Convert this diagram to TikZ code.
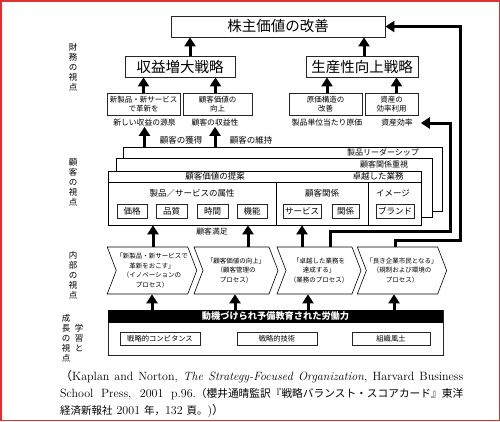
\documentclass[tikz,border=0pt]{standalone}
\usepackage{fontspec}
\newfontfamily\jp{Noto Sans CJK JP}
\usetikzlibrary{arrows.meta,positioning,shapes.symbols}
\definecolor{frame}{RGB}{220,50,50}
\newcommand\fsz[1]{\fontsize{#1}{#1}\selectfont}

\begin{document}
\begin{tikzpicture}[x=1pt,y=-1pt,
  font=\jp,
  box/.style={rectangle,draw=black!85,line width=.8pt,inner sep=0pt,align=center},
  goal/.style={box,font=\jp\fsz{14.5},minimum height=21pt},
  driver/.style={box,line width=.6pt,font=\jp\fontsize{7.5}{9.5}\selectfont,minimum height=22pt},
  tag/.style={inner sep=0pt,font=\jp\fsz{7.8}},
  ctag/.style={inner sep=0pt,font=\jp\fsz{8.5}},
  layer/.style={rectangle,draw,fill=white,line width=.6pt,inner sep=0pt},
  attr/.style={box,line width=.7pt,font=\jp\fsz{8.5},minimum height=14pt},
  chev/.style={shape=signal,signal from=west,signal to=east,signal pointer angle=138,draw,line width=.6pt,minimum width=84pt,minimum height=47pt,inner sep=0pt,align=center,font=\jp\fontsize{6.5}{9.5}\selectfont},
  skill/.style={box,line width=.7pt,font=\jp\fsz{7.3},minimum height=13pt},
  view/.style={inner sep=0pt,align=center,font=\jp\fontsize{8.5}{10}\selectfont},
  arrow/.style={-{Triangle[length=9pt,width=11pt]},line width=3pt},
]
\useasboundingbox (0,0) rectangle (500,421);
\draw[frame,line width=1.5pt] (0.75,0.75) rectangle (499.25,420.25);

% financial perspective
\node[goal,minimum width=214pt] (top) at (278,26.5) {株主価値の改善};
\node[goal,minimum width=110pt] (rev) at (180,66.5) {収益増大戦略};
\node[goal,minimum width=112pt] (prod) at (362,66.5) {生産性向上戦略};
\node[driver,minimum width=73pt] (f1) at (143.5,104) {新製品・新サービス\\で革新を};
\node[driver,minimum width=69pt] (f2) at (217.5,104) {顧客価値の\\向上};
\node[driver,minimum width=73pt] (f3) at (325.5,104) {原価構造の\\改善};
\node[driver,minimum width=53pt] (f4) at (391.5,104) {資産の\\効率利用};
\node[tag] (l1) at (144.5,123) {新しい収益の源泉};
\node[tag] (l2) at (215,123) {顧客の収益性};
\node[tag] (l3) at (327,123) {製品単位当たり原価};
\node[tag] (l4) at (397,123) {資産効率};

\draw[arrow] ([xshift=10pt]rev.north) -- ([xshift=10pt]rev.north |- top.south);
\draw[arrow] ([xshift=2pt]prod.north) -- ([xshift=2pt]prod.north |- top.south);
\draw[arrow] (f1.north) -- (f1.north |- rev.south);
\draw[arrow] ([xshift=-2pt]f2.north) -- ([xshift=-2pt]f2.north |- rev.south);
\draw[arrow] ([xshift=1.5pt]f3.north) -- ([xshift=1.5pt]f3.north |- prod.south);
\draw[arrow] ([xshift=5pt]f4.north) -- ([xshift=5pt]f4.north |- prod.south);

% customer perspective
\node[layer,minimum width=319pt,minimum height=64pt] (back) at (282.5,179) {};
\node[layer,minimum width=316pt,minimum height=59pt] (mid) at (274,187.5) {};
\node[layer,minimum width=313pt,minimum height=54pt] (front) at (264.5,198) {};
\draw[line width=.6pt] (108,182) -- (421,182);
\draw[line width=.6pt] (276,182) -- (276,225);
\draw[line width=.6pt] (368,182) -- (368,225);
\node[tag,font=\jp\fsz{8}] (lead) at (383,152.5) {製品リーダーシップ};
\node[tag,font=\jp\fsz{8}] (intim) at (384,164.5) {顧客関係重視};
\node[ctag] (offer) at (215,176.5) {顧客価値の提案};
\node[ctag] (excel) at (378,176.5) {卓越した業務};
\node[ctag] (attrs) at (192,193) {製品／サービスの属性};
\node[ctag] (rel) at (322,193) {顧客関係};
\node[ctag] (img) at (393,193) {イメージ};
\node[attr,minimum width=30pt] (a1) at (132,211) {価格};
\node[attr,minimum width=31pt] (a2) at (171.5,211) {品質};
\node[attr,minimum width=31pt] (a3) at (212.5,211) {時間};
\node[attr,minimum width=30pt] (a4) at (252,211) {機能};
\node[attr,minimum width=38pt] (a5) at (302,211) {サービス};
\node[attr,minimum width=27pt] (a6) at (345.5,211) {関係};
\node[attr,minimum width=38pt] (a7) at (395,211) {ブランド};
\node[ctag] (gain) at (181,140) {顧客の獲得};
\node[ctag] (keep) at (251,140) {顧客の維持};
\draw[arrow] (back.north -| l1) -- (l1.south);
\draw[arrow] (back.north -| l2) -- (l2.south);

% internal perspective
\node[chev] (p1) at (152,270.5) {「新製品・新サービスで\\革新をおこす」\\（イノベーションの\\プロセス）};
\node[chev] (p2) at (236,270.5) {「顧客価値の向上」\\（顧客管理の\\プロセス）};
\node[chev] (p3) at (319,270.5) {「卓越した業務を\\達成する」\\（業務のプロセス）};
\node[chev] (p4) at (402,270.5) {「良き企業市民となる」\\（規制および環境の\\プロセス）};
\node[tag] (sat) at (212,232) {顧客満足};
\draw[arrow] ([xshift=1pt]p1.north) -- ([xshift=1pt]p1.north |- front.south);
\draw[arrow] ([xshift=12pt]p2.north) -- ([xshift=12pt]p2.north |- front.south);
\draw[arrow] ([xshift=-17pt]p3.north) -- ([xshift=-17pt]p3.north |- front.south);
\draw[arrow] ([xshift=11pt]p3.north) |- (450,231) |- ([xshift=8pt]l4.east);
\draw[arrow] ([xshift=-7pt]p4.north) |- (460,240) |- (top.east);

% learning and growth perspective
\node[box,line width=.9pt,minimum width=335pt,minimum height=45pt] (lb) at (275.5,332.5) {};
\node[rectangle,fill=black,text=white,inner sep=0pt,minimum width=335pt,minimum height=13pt,font=\jp\bfseries\fsz{9.2}] (band) at (275.5,316.5) {動機づけられ予備教育された労働力};
\node[skill,minimum width=80pt] (s1) at (160,338.5) {戦略的コンピタンス};
\node[skill,minimum width=80pt] (s2) at (277,338.5) {戦略的技術};
\node[skill,minimum width=78pt] (s3) at (391,338.5) {組織風土};
\draw[arrow] (lb.north -| p1) -- (p1.south);
\draw[arrow] ([xshift=-1pt]lb.north -| p2) -- ([xshift=-1pt]p2.south);
\draw[arrow] ([xshift=-11pt]lb.north -| p3) -- ([xshift=-11pt]p3.south);
\draw[arrow] ([xshift=-8pt]lb.north -| p4) -- ([xshift=-8pt]p4.south);

% perspective labels
\node[view] (v1) at (73,67.5) {財\\務\\の\\視\\点};
\node[view] (v2) at (73,182) {顧\\客\\の\\視\\点};
\node[view] (v3) at (73,275) {内\\部\\の\\視\\点};
\node[view] (v4) at (66,338) {成\\長\\の\\視\\点};
\node[view] (v5) at (79,338.5) {学\\習\\と};

% source
\node[anchor=north west,inner sep=0pt,text width=403pt,align=justify,font=\fontsize{12}{17}\selectfont] (cite) at (60,370.5)
  {{\jp （}Kaplan and Norton, \textit{The Strategy-Focused Organization}, Harvard Business\linebreak
   School Press, 2001 p.96.{\jp\fsz{10.7}（櫻井通晴監訳『戦略バランスト・スコアカード』東洋}\linebreak
   {\jp\fsz{10.5}経済新報社} 2001 {\jp\fsz{10.5}年，}132 {\jp\fsz{10.5}頁。})\jp{）}};
\end{tikzpicture}
\end{document}
